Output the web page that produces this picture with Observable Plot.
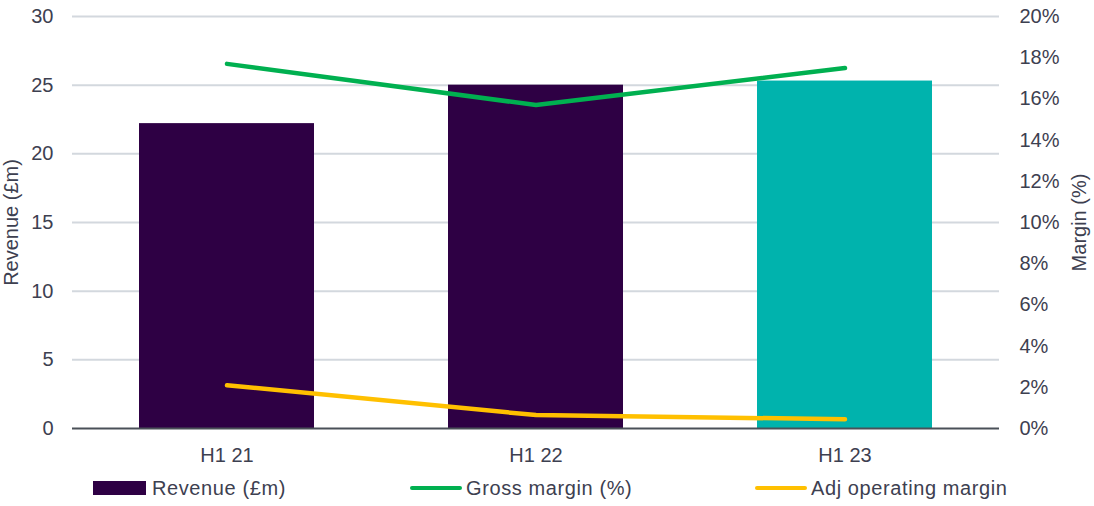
<!DOCTYPE html>
<html>
<head>
<meta charset="utf-8">
<script src="https://cdn.jsdelivr.net/npm/d3@7"></script>
<script src="https://cdn.jsdelivr.net/npm/@observablehq/plot@0.6"></script>
<style>
  html, body { margin: 0; padding: 0; background: #fff; }
  #wrap { position: relative; width: 1094px; height: 506px; font-family: "Liberation Sans", Arial, sans-serif; color: #3d4050; }
  #legend { position: absolute; left: 0; top: 470px; width: 1094px; height: 36px; font-size: 20px; letter-spacing: 0.6px; }
  .item { position: absolute; top: 0; height: 36px; display: flex; align-items: center; }
  .swatch-bar { width: 53px; height: 14px; margin-right: 6px; }
  .swatch-line { width: 52px; height: 4.5px; border-radius: 3px; margin-right: 4px; }
</style>
</head>
<body>
<div id="wrap">
  <div id="chart"></div>
  <div id="legend"></div>
</div>
<script>
// Half-year periods and reported figures
const periods = ["H1 21", "H1 22", "H1 23"];
const revenue = [22.2, 25.0, 25.3];            // £m
const grossMargin = [17.7, 15.7, 17.5];        // %
const adjOperatingMargin = [2.1, 0.65, 0.45];  // %

// Axis ticks
const revenueTicks = [0, 5, 10, 15, 20, 25, 30];
const marginTicks = [0, 2, 4, 6, 8, 10, 12, 14, 16, 18, 20];

const purple = "#2e0044";
const teal = "#00b3ad";
const green = "#00b050";
const yellow = "#ffc000";

// Margins share the revenue y scale: 0–20% maps onto 0–30
const revenueMax = d3.max(revenueTicks);
const marginMax = d3.max(marginTicks);
const k = revenueMax / marginMax;

const rows = periods.map((period, i) => ({
  period,
  revenue: revenue[i],
  gross: grossMargin[i],
  adj: adjOperatingMargin[i]
}));
const latest = periods[periods.length - 1];

const chart = Plot.plot({
  width: 1094,
  height: 470,
  marginLeft: 72,
  marginRight: 95,
  marginTop: 16,
  marginBottom: 42,
  style: { fontFamily: "'Liberation Sans', Arial, sans-serif", fontSize: "20px", color: "#3d4050", background: "#fff" },
  x: { domain: periods, paddingInner: 0.434, paddingOuter: 0.217, axis: null },
  y: { domain: [0, revenueMax], axis: null },
  marks: [
    Plot.gridY(revenueTicks.filter(v => v > 0), { stroke: "#d3d8de", strokeOpacity: 1, strokeWidth: 2 }),
    Plot.axisY(revenueTicks, {
      anchor: "left", tickSize: 0, tickPadding: 19,
      label: "Revenue (£m)", labelAnchor: "center", labelArrow: "none", labelOffset: 69,
      fill: "#3d4050"
    }),
    Plot.axisY(marginTicks.map(m => m * k), {
      anchor: "right", tickSize: 0, tickPadding: 20,
      tickFormat: v => `${Math.round(v / k)}%`,
      label: "Margin (%)", labelAnchor: "center", labelArrow: "none", labelOffset: 86,
      fill: "#3d4050"
    }),
    Plot.axisX({ tickSize: 0, tickPadding: 19, label: null, fill: "#3d4050" }),
    Plot.barY(rows, { x: "period", y: "revenue", fill: d => d.period === latest ? teal : purple }),
    Plot.ruleY([0], { stroke: "#4a5058", strokeWidth: 2 }),
    Plot.line(rows, { x: "period", y: d => d.gross * k, stroke: green, strokeWidth: 4.5, strokeLinecap: "round", strokeLinejoin: "round" }),
    Plot.line(rows, { x: "period", y: d => d.adj * k, stroke: yellow, strokeWidth: 4.5, strokeLinecap: "round", strokeLinejoin: "round" })
  ]
});
document.getElementById("chart").appendChild(chart);

// Legend below the chart
const legendItems = [
  { label: "Revenue (£m)", color: purple, kind: "bar", left: 93 },
  { label: "Gross margin (%)", color: green, kind: "line", left: 410 },
  { label: "Adj operating margin", color: yellow, kind: "line", left: 755 }
];
const legend = d3.select("#legend");
for (const it of legendItems) {
  const item = legend.append("div").attr("class", "item").style("left", it.left + "px");
  item.append("span").attr("class", it.kind === "bar" ? "swatch-bar" : "swatch-line").style("background", it.color);
  item.append("span").text(it.label);
}
</script>
</body>
</html>
